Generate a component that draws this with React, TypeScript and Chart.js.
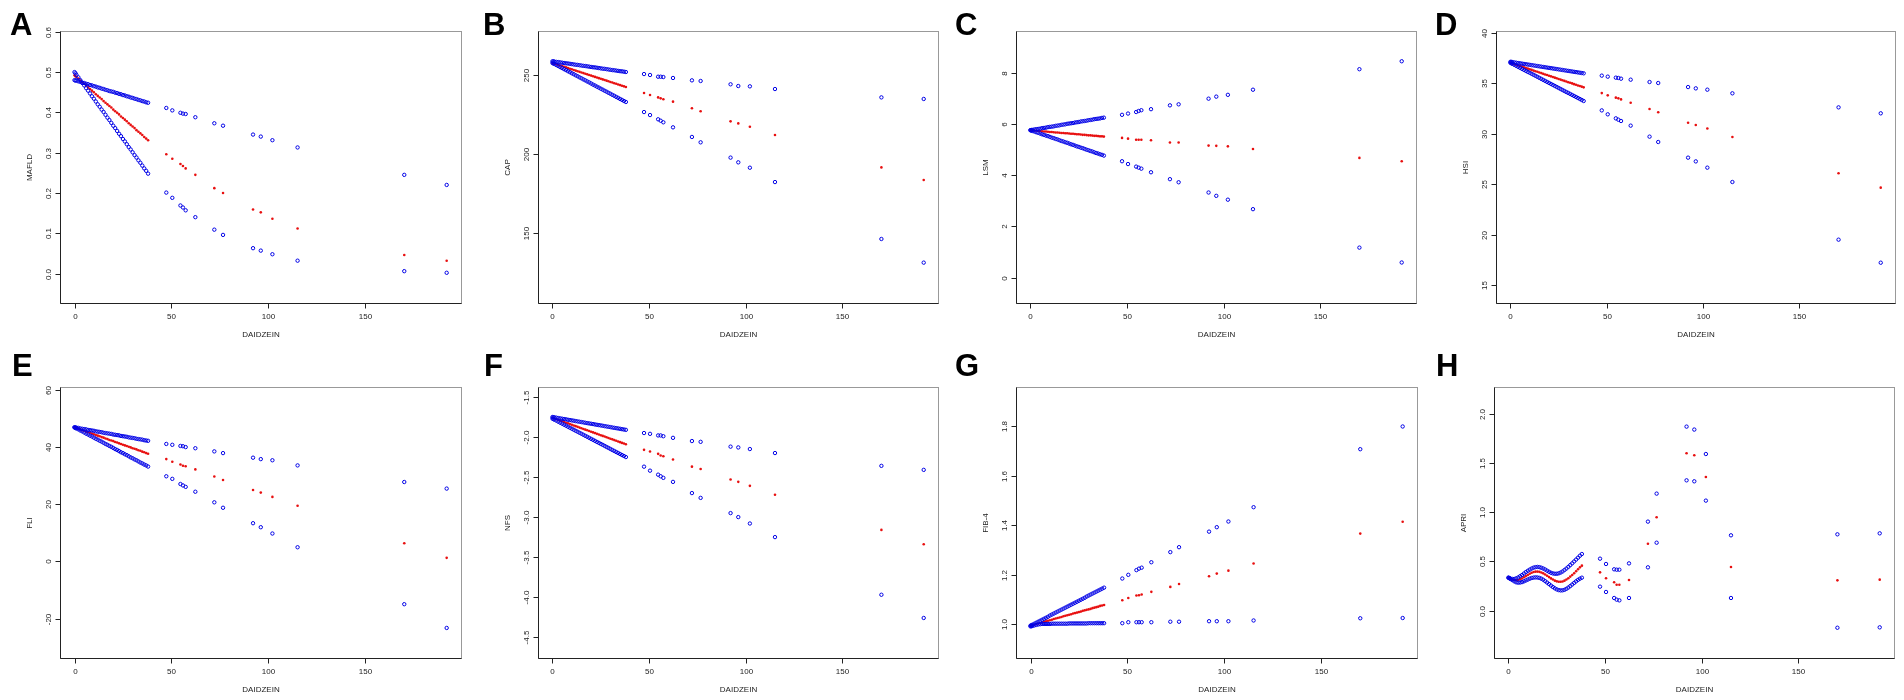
import { useEffect, useRef } from 'react';
import { Chart, registerables } from 'chart.js';

Chart.register(...registerables);

// DAIDZEIN values (x) shared by all eight panels
const DAIDZEIN = [0, 0.5, 1, 2, 3, 4, 5, 6, 7, 8, 9, 10, 11, 12, 13, 14, 15, 16, 17, 18, 19, 20, 21, 22, 23, 24, 25, 26, 27, 28, 29, 30, 31, 32, 33, 34, 35, 36, 37, 38,
    47.4, 50.5, 54.7, 56, 57.4, 62.4, 72.2, 76.7, 92.2, 96.2, 102.2, 115.2, 170.3, 192.2];
const X_TICKS = [0, 50, 100, 150];

// A - MAFLD
const MAFLD_CI1 = [0.480, 0.479, 0.479, 0.477, 0.476, 0.474, 0.473, 0.471, 0.470, 0.468, 0.467, 0.465, 0.464, 0.462, 0.461, 0.459, 0.458, 0.456, 0.455, 0.453, 0.452, 0.451, 0.449, 0.448, 0.446, 0.445, 0.443, 0.442, 0.440, 0.439, 0.437, 0.436, 0.434, 0.433, 0.431, 0.430, 0.428, 0.427, 0.425, 0.424,
    0.411, 0.405, 0.399, 0.397, 0.396, 0.388, 0.373, 0.367, 0.345, 0.340, 0.331, 0.313, 0.245, 0.220];
const MAFLD_FIT = [0.492, 0.490, 0.488, 0.484, 0.479, 0.475, 0.471, 0.467, 0.462, 0.458, 0.454, 0.450, 0.445, 0.441, 0.437, 0.433, 0.428, 0.424, 0.420, 0.416, 0.412, 0.407, 0.403, 0.399, 0.395, 0.390, 0.386, 0.382, 0.378, 0.373, 0.369, 0.365, 0.361, 0.356, 0.352, 0.348, 0.344, 0.339, 0.335, 0.331,
    0.296, 0.285, 0.272, 0.267, 0.261, 0.245, 0.212, 0.200, 0.159, 0.152, 0.136, 0.112, 0.046, 0.032];
const MAFLD_CI2 = [0.500, 0.497, 0.493, 0.487, 0.480, 0.473, 0.467, 0.460, 0.454, 0.447, 0.440, 0.434, 0.427, 0.420, 0.414, 0.407, 0.401, 0.394, 0.387, 0.381, 0.374, 0.367, 0.361, 0.354, 0.347, 0.341, 0.334, 0.328, 0.321, 0.314, 0.308, 0.301, 0.294, 0.288, 0.281, 0.275, 0.268, 0.261, 0.255, 0.248,
    0.201, 0.188, 0.169, 0.164, 0.157, 0.140, 0.109, 0.096, 0.063, 0.057, 0.048, 0.032, 0.006, 0.002];
const MAFLD_TICKS = ['0.0', '0.1', '0.2', '0.3', '0.4', '0.5', '0.6'];

// B - CAP
const CAP_CI1 = [258.7, 258.6, 258.5, 258.3, 258.2, 258.0, 257.8, 257.6, 257.4, 257.3, 257.1, 256.9, 256.7, 256.5, 256.4, 256.2, 256.0, 255.8, 255.7, 255.5, 255.3, 255.1, 254.9, 254.8, 254.6, 254.4, 254.2, 254.0, 253.9, 253.7, 253.5, 253.3, 253.1, 253.0, 252.8, 252.6, 252.4, 252.3, 252.1, 251.9,
    250.6, 250.0, 248.9, 248.9, 248.7, 248.1, 246.6, 246.2, 244.1, 243.0, 242.8, 241.1, 235.8, 234.8];
const CAP_FIT = [257.6, 257.4, 257.2, 256.8, 256.4, 256.0, 255.6, 255.2, 254.8, 254.4, 254.0, 253.6, 253.2, 252.8, 252.4, 252.0, 251.6, 251.2, 250.8, 250.4, 250.0, 249.6, 249.2, 248.8, 248.4, 248.0, 247.6, 247.2, 246.8, 246.4, 246.0, 245.6, 245.2, 244.8, 244.4, 244.0, 243.6, 243.2, 242.8, 242.4,
    238.6, 237.3, 235.8, 235.2, 234.6, 233.1, 228.9, 227.0, 220.6, 219.3, 217.2, 211.9, 191.4, 183.4];
const CAP_CI2 = [257.6, 257.3, 257.0, 256.3, 255.7, 255.0, 254.4, 253.7, 253.1, 252.4, 251.8, 251.1, 250.5, 249.8, 249.2, 248.5, 247.9, 247.2, 246.6, 245.9, 245.3, 244.6, 243.9, 243.3, 242.6, 242.0, 241.3, 240.7, 240.0, 239.4, 238.7, 238.1, 237.4, 236.8, 236.1, 235.5, 234.8, 234.2, 233.5, 232.9,
    226.5, 224.6, 221.9, 221.0, 220.0, 216.8, 210.7, 207.3, 197.6, 194.6, 191.2, 182.1, 146.0, 131.0];
const CAP_TICKS = ['150', '200', '250'];

// C - LSM
const LSM_CI1 = [5.75, 5.76, 5.76, 5.78, 5.79, 5.80, 5.81, 5.83, 5.84, 5.85, 5.87, 5.88, 5.89, 5.90, 5.92, 5.93, 5.94, 5.96, 5.97, 5.98, 6.00, 6.01, 6.02, 6.03, 6.05, 6.06, 6.07, 6.09, 6.10, 6.11, 6.12, 6.14, 6.15, 6.16, 6.18, 6.19, 6.20, 6.21, 6.23, 6.24,
    6.35, 6.40, 6.46, 6.50, 6.53, 6.57, 6.72, 6.76, 6.98, 7.06, 7.13, 7.33, 8.13, 8.44];
const LSM_FIT = [5.75, 5.75, 5.74, 5.74, 5.73, 5.72, 5.72, 5.71, 5.70, 5.70, 5.69, 5.68, 5.68, 5.67, 5.66, 5.66, 5.65, 5.64, 5.64, 5.63, 5.63, 5.62, 5.61, 5.61, 5.60, 5.59, 5.59, 5.58, 5.57, 5.57, 5.56, 5.55, 5.55, 5.54, 5.53, 5.53, 5.52, 5.51, 5.51, 5.50,
    5.45, 5.42, 5.38, 5.38, 5.38, 5.36, 5.27, 5.27, 5.15, 5.14, 5.12, 5.02, 4.67, 4.54];
const LSM_CI2 = [5.75, 5.74, 5.72, 5.70, 5.67, 5.65, 5.62, 5.59, 5.57, 5.54, 5.52, 5.49, 5.46, 5.44, 5.41, 5.39, 5.36, 5.33, 5.31, 5.28, 5.26, 5.23, 5.20, 5.18, 5.15, 5.12, 5.10, 5.07, 5.05, 5.02, 4.99, 4.97, 4.94, 4.92, 4.89, 4.86, 4.84, 4.81, 4.79, 4.76,
    4.54, 4.43, 4.33, 4.29, 4.25, 4.11, 3.84, 3.72, 3.32, 3.19, 3.04, 2.67, 1.17, 0.59];
const LSM_TICKS = ['0', '2', '4', '6', '8'];

// D - HSI
const HSI_CI1 = [37.10, 37.09, 37.07, 37.04, 37.01, 36.98, 36.95, 36.92, 36.89, 36.86, 36.83, 36.80, 36.77, 36.74, 36.71, 36.68, 36.65, 36.62, 36.59, 36.56, 36.53, 36.50, 36.47, 36.44, 36.41, 36.38, 36.35, 36.32, 36.29, 36.26, 36.23, 36.20, 36.17, 36.14, 36.11, 36.08, 36.05, 36.02, 35.99, 35.96,
    35.73, 35.63, 35.53, 35.50, 35.43, 35.33, 35.10, 35.00, 34.60, 34.47, 34.34, 33.98, 32.59, 32.00];
const HSI_FIT = [37.00, 36.97, 36.94, 36.87, 36.81, 36.74, 36.68, 36.62, 36.55, 36.49, 36.42, 36.36, 36.30, 36.23, 36.17, 36.11, 36.04, 35.98, 35.91, 35.85, 35.79, 35.72, 35.66, 35.59, 35.53, 35.47, 35.40, 35.34, 35.27, 35.21, 35.15, 35.08, 35.02, 34.96, 34.89, 34.83, 34.76, 34.70, 34.64, 34.57,
    34.00, 33.78, 33.55, 33.48, 33.38, 33.05, 32.43, 32.10, 31.07, 30.84, 30.50, 29.65, 26.06, 24.64];
const HSI_CI2 = [37.00, 36.95, 36.90, 36.80, 36.70, 36.60, 36.50, 36.40, 36.30, 36.20, 36.10, 36.01, 35.91, 35.81, 35.71, 35.61, 35.51, 35.41, 35.31, 35.21, 35.11, 35.01, 34.91, 34.81, 34.71, 34.61, 34.51, 34.41, 34.31, 34.21, 34.11, 34.02, 33.92, 33.82, 33.72, 33.62, 33.52, 33.42, 33.32, 33.22,
    32.29, 31.90, 31.50, 31.37, 31.24, 30.78, 29.69, 29.16, 27.61, 27.24, 26.62, 25.20, 19.49, 17.21];
const HSI_TICKS = ['15', '20', '25', '30', '35', '40'];

// E - FLI
const FLI_CI1 = [46.8, 46.7, 46.7, 46.6, 46.4, 46.3, 46.2, 46.1, 45.9, 45.8, 45.7, 45.6, 45.4, 45.3, 45.2, 45.1, 44.9, 44.8, 44.7, 44.6, 44.5, 44.3, 44.2, 44.1, 44.0, 43.8, 43.7, 43.6, 43.5, 43.3, 43.2, 43.1, 43.0, 42.8, 42.7, 42.6, 42.5, 42.3, 42.2, 42.1,
    41.0, 40.7, 40.3, 40.2, 39.9, 39.5, 38.4, 37.8, 36.2, 35.7, 35.3, 33.5, 27.7, 25.4];
const FLI_FIT = [46.8, 46.7, 46.6, 46.3, 46.1, 45.8, 45.6, 45.3, 45.1, 44.9, 44.6, 44.4, 44.1, 43.9, 43.7, 43.4, 43.2, 42.9, 42.7, 42.4, 42.2, 42.0, 41.7, 41.5, 41.2, 41.0, 40.7, 40.5, 40.3, 40.0, 39.8, 39.5, 39.3, 39.1, 38.8, 38.6, 38.3, 38.1, 37.8, 37.6,
    35.7, 34.8, 33.8, 33.4, 33.2, 32.1, 29.6, 28.4, 24.9, 24.0, 22.5, 19.4, 6.3, 1.2];
const FLI_CI2 = [46.8, 46.6, 46.4, 46.1, 45.7, 45.4, 45.0, 44.6, 44.3, 43.9, 43.6, 43.2, 42.8, 42.5, 42.1, 41.8, 41.4, 41.0, 40.7, 40.3, 40.0, 39.6, 39.2, 38.9, 38.5, 38.1, 37.8, 37.4, 37.1, 36.7, 36.3, 36.0, 35.6, 35.3, 34.9, 34.5, 34.2, 33.8, 33.5, 33.1,
    29.7, 28.8, 27.0, 26.5, 26.0, 24.3, 20.6, 18.7, 13.3, 11.9, 9.7, 4.9, -15.0, -23.3];
const FLI_TICKS = ['-20', '0', '20', '40', '60'];

// F - NFS
const NFS_CI1 = [-1.750, -1.752, -1.754, -1.758, -1.763, -1.767, -1.771, -1.775, -1.779, -1.784, -1.788, -1.792, -1.796, -1.801, -1.805, -1.809, -1.813, -1.817, -1.822, -1.826, -1.830, -1.834, -1.838, -1.843, -1.847, -1.851, -1.855, -1.859, -1.864, -1.868, -1.872, -1.876, -1.881, -1.885, -1.889, -1.893, -1.897, -1.902, -1.906, -1.910,
    -1.95, -1.96, -1.98, -1.98, -1.99, -2.01, -2.05, -2.06, -2.12, -2.13, -2.15, -2.20, -2.36, -2.41];
const NFS_FIT = [-1.760, -1.764, -1.769, -1.777, -1.786, -1.795, -1.803, -1.812, -1.821, -1.829, -1.838, -1.847, -1.855, -1.864, -1.873, -1.882, -1.890, -1.899, -1.908, -1.916, -1.925, -1.934, -1.942, -1.951, -1.960, -1.968, -1.977, -1.986, -1.994, -2.003, -2.012, -2.021, -2.029, -2.038, -2.047, -2.055, -2.064, -2.073, -2.081, -2.090,
    -2.16, -2.18, -2.21, -2.23, -2.24, -2.28, -2.37, -2.40, -2.53, -2.56, -2.61, -2.72, -3.16, -3.34];
const NFS_CI2 = [-1.770, -1.776, -1.783, -1.795, -1.808, -1.821, -1.833, -1.846, -1.858, -1.871, -1.884, -1.896, -1.909, -1.922, -1.934, -1.947, -1.959, -1.972, -1.985, -1.997, -2.010, -2.023, -2.035, -2.048, -2.061, -2.073, -2.086, -2.098, -2.111, -2.124, -2.136, -2.149, -2.162, -2.174, -2.187, -2.199, -2.212, -2.225, -2.237, -2.250,
    -2.37, -2.42, -2.47, -2.49, -2.51, -2.56, -2.70, -2.76, -2.95, -3.00, -3.08, -3.25, -3.97, -4.26];
const NFS_TICKS = ['-4.5', '-4.0', '-3.5', '-3.0', '-2.5', '-2.0', '-1.5'];

// G - FIB-4
const FIB4_CI1 = [0.993, 0.995, 0.997, 1.001, 1.005, 1.009, 1.013, 1.017, 1.021, 1.025, 1.029, 1.034, 1.038, 1.042, 1.046, 1.050, 1.054, 1.058, 1.062, 1.066, 1.070, 1.074, 1.078, 1.082, 1.086, 1.090, 1.094, 1.098, 1.102, 1.106, 1.111, 1.115, 1.119, 1.123, 1.127, 1.131, 1.135, 1.139, 1.143, 1.147,
    1.184, 1.199, 1.218, 1.224, 1.228, 1.250, 1.291, 1.311, 1.374, 1.392, 1.415, 1.473, 1.708, 1.800];
const FIB4_FIT = [0.993, 0.994, 0.995, 0.997, 1.000, 1.002, 1.004, 1.006, 1.008, 1.011, 1.013, 1.015, 1.017, 1.020, 1.022, 1.024, 1.026, 1.028, 1.031, 1.033, 1.035, 1.037, 1.039, 1.042, 1.044, 1.046, 1.048, 1.050, 1.053, 1.055, 1.057, 1.059, 1.061, 1.064, 1.066, 1.068, 1.070, 1.073, 1.075, 1.077,
    1.096, 1.105, 1.115, 1.116, 1.119, 1.130, 1.150, 1.162, 1.193, 1.204, 1.216, 1.245, 1.366, 1.414];
const FIB4_CI2 = [0.990, 0.991, 0.992, 0.994, 0.996, 0.998, 0.999, 1.000, 1.000, 1.000, 1.000, 1.000, 1.001, 1.001, 1.001, 1.001, 1.001, 1.001, 1.001, 1.001, 1.001, 1.002, 1.002, 1.002, 1.002, 1.002, 1.002, 1.002, 1.002, 1.002, 1.002, 1.003, 1.003, 1.003, 1.003, 1.003, 1.003, 1.003, 1.003, 1.003,
    1.003, 1.007, 1.007, 1.007, 1.007, 1.007, 1.009, 1.009, 1.011, 1.011, 1.011, 1.014, 1.023, 1.024];
const FIB4_TICKS = ['1.0', '1.2', '1.4', '1.6', '1.8'];

// H - APRI
const APRI_CI1 = [0.335, 0.330, 0.326, 0.322, 0.322, 0.328, 0.337, 0.350, 0.362, 0.377, 0.392, 0.405, 0.417, 0.428, 0.437, 0.442, 0.444, 0.442, 0.436, 0.428, 0.418, 0.406, 0.395, 0.385, 0.378, 0.375, 0.375, 0.379, 0.387, 0.398, 0.413, 0.428, 0.445, 0.463, 0.481, 0.500, 0.519, 0.538, 0.558, 0.575,
    0.528, 0.474, 0.420, 0.416, 0.416, 0.480, 0.904, 1.188, 1.868, 1.838, 1.590, 0.765, 0.775, 0.785];
const APRI_FIT = [0.335, 0.330, 0.326, 0.318, 0.312, 0.310, 0.312, 0.319, 0.327, 0.339, 0.351, 0.363, 0.375, 0.385, 0.392, 0.396, 0.397, 0.394, 0.388, 0.379, 0.368, 0.355, 0.341, 0.328, 0.316, 0.305, 0.298, 0.294, 0.293, 0.297, 0.305, 0.316, 0.330, 0.346, 0.363, 0.380, 0.400, 0.420, 0.440, 0.457,
    0.389, 0.330, 0.288, 0.264, 0.264, 0.311, 0.680, 0.948, 1.597, 1.577, 1.357, 0.443, 0.308, 0.315];
const APRI_CI2 = [0.335, 0.330, 0.322, 0.310, 0.298, 0.288, 0.285, 0.286, 0.290, 0.298, 0.307, 0.316, 0.325, 0.332, 0.336, 0.338, 0.337, 0.333, 0.325, 0.314, 0.300, 0.285, 0.270, 0.255, 0.240, 0.227, 0.216, 0.209, 0.206, 0.207, 0.212, 0.222, 0.235, 0.250, 0.266, 0.282, 0.298, 0.313, 0.325, 0.335,
    0.244, 0.190, 0.129, 0.112, 0.105, 0.129, 0.440, 0.690, 1.323, 1.313, 1.117, 0.129, -0.173, -0.169];
const APRI_TICKS = ['0.0', '0.5', '1.0', '1.5', '2.0'];

const FONT = '"Liberation Sans", Arial, Helvetica, sans-serif';

// panel placement: cell on the page, plot-box padding inside the cell, letter position
const PANELS = [
    { letter: 'A', name: 'MAFLD', hi: MAFLD_CI1, fit: MAFLD_FIT, lo: MAFLD_CI2, ticks: MAFLD_TICKS, yMin: -0.073, yMax: 0.602,
        cell: [0, 0, 476, 350], pad: [60, 31, 15, 47], lx: 10, ly: 35 },
    { letter: 'B', name: 'CAP', hi: CAP_CI1, fit: CAP_FIT, lo: CAP_CI2, ticks: CAP_TICKS, yMin: 105.4, yMax: 277.9,
        cell: [476, 0, 476, 350], pad: [62, 31, 14, 47], lx: 7, ly: 35 },
    { letter: 'C', name: 'LSM', hi: LSM_CI1, fit: LSM_FIT, lo: LSM_CI2, ticks: LSM_TICKS, yMin: -0.99, yMax: 9.62,
        cell: [952, 0, 478, 350], pad: [64, 31, 14, 47], lx: 3, ly: 35 },
    { letter: 'D', name: 'HSI', hi: HSI_CI1, fit: HSI_FIT, lo: HSI_CI2, ticks: HSI_TICKS, yMin: 13.22, yMax: 40.15,
        cell: [1430, 0, 474, 350], pad: [66, 31, 9, 47], lx: 5, ly: 35 },
    { letter: 'E', name: 'FLI', hi: FLI_CI1, fit: FLI_FIT, lo: FLI_CI2, ticks: FLI_TICKS, yMin: -33.8, yMax: 60.9,
        cell: [0, 350, 476, 350], pad: [60, 37, 15, 42], lx: 12, ly: 26 },
    { letter: 'F', name: 'NFS', hi: NFS_CI1, fit: NFS_FIT, lo: NFS_CI2, ticks: NFS_TICKS, yMin: -4.76, yMax: -1.375,
        cell: [476, 350, 476, 350], pad: [62, 37, 14, 42], lx: 8, ly: 26 },
    { letter: 'G', name: 'FIB-4', hi: FIB4_CI1, fit: FIB4_FIT, lo: FIB4_CI2, ticks: FIB4_TICKS, yMin: 0.862, yMax: 1.96,
        cell: [952, 350, 478, 350], pad: [64, 37, 13, 42], lx: 3, ly: 26 },
    { letter: 'H', name: 'APRI', hi: APRI_CI1, fit: APRI_FIT, lo: APRI_CI2, ticks: APRI_TICKS, yMin: -0.48, yMax: 2.27,
        cell: [1430, 350, 474, 350], pad: [64, 37, 10, 42], lx: 6, ly: 26 },
];

const toPoints = (ys: number[]) => DAIDZEIN.map((x, i) => ({ x, y: ys[i] }));

const Panel = ({ p }: { p: any }) => {
    const chartRef = useRef<HTMLCanvasElement | null>(null);
    const [cx, cy, cw, ch] = p.cell;

    useEffect(() => {
        const canvas = chartRef.current;
        if (!canvas) return;

        // R-style frame: box, outward ticks, rotated y labels, titles, panel letter
        const frame = {
            id: 'rframe',
            afterDraw(chart: any) {
                const { ctx, chartArea: a, scales } = chart;
                const L = Math.round(a.left) + 0.5, R = Math.round(a.right) + 0.5;
                const T = Math.round(a.top) + 0.5, B = Math.round(a.bottom) + 0.5;
                ctx.save();
                ctx.strokeStyle = '#999';
                ctx.lineWidth = 1;
                ctx.strokeRect(L, T, R - L, B - T);
                ctx.strokeStyle = '#222';
                ctx.beginPath();
                ctx.moveTo(L, T); ctx.lineTo(L, B); ctx.lineTo(R, B);
                ctx.stroke();

                ctx.fillStyle = '#222';
                ctx.font = `8px ${FONT}`;
                ctx.textAlign = 'center';
                ctx.textBaseline = 'middle';
                X_TICKS.forEach((v) => {
                    const px = Math.round(scales.x.getPixelForValue(v)) + 0.5;
                    ctx.beginPath(); ctx.moveTo(px, B); ctx.lineTo(px, B + 5); ctx.stroke();
                    ctx.fillText(String(v), px, B + 13);
                });
                ctx.fillText('DAIDZEIN', (L + R) / 2, B + 31);

                p.ticks.forEach((lab: string) => {
                    const py = Math.round(scales.y.getPixelForValue(parseFloat(lab))) + 0.5;
                    ctx.beginPath(); ctx.moveTo(L - 5, py); ctx.lineTo(L, py); ctx.stroke();
                    ctx.save();
                    ctx.translate(L - 12, py);
                    ctx.rotate(-Math.PI / 2);
                    ctx.fillText(lab, 0, 0);
                    ctx.restore();
                });
                ctx.save();
                ctx.translate(L - 31, (T + B) / 2);
                ctx.rotate(-Math.PI / 2);
                ctx.fillText(p.name, 0, 0);
                ctx.restore();

                ctx.fillStyle = '#000';
                ctx.font = `bold 31px ${FONT}`;
                ctx.textAlign = 'left';
                ctx.textBaseline = 'alphabetic';
                ctx.fillText(p.letter, p.lx, p.ly);
                ctx.restore();
            },
        };

        const blue = {
            pointRadius: 1.7,
            pointBorderWidth: 1,
            borderColor: '#0000e6',
            backgroundColor: 'rgba(0,0,0,0)',
        };

        const newChart = new Chart(canvas, {
            type: 'scatter',
            data: {
                datasets: [
                    { label: 'upper', data: toPoints(p.hi), ...blue },
                    { label: 'lower', data: toPoints(p.lo), ...blue },
                    {
                        label: 'estimate', data: toPoints(p.fit),
                        pointRadius: 1.3, pointBorderWidth: 0,
                        borderColor: '#e81010', backgroundColor: '#e81010',
                    },
                ],
            },
            options: {
                animation: false,
                responsive: false,
                maintainAspectRatio: false,
                events: [],
                layout: { padding: { left: p.pad[0], top: p.pad[1], right: p.pad[2], bottom: p.pad[3] } },
                plugins: { legend: { display: false }, tooltip: { enabled: false } },
                scales: {
                    x: { type: 'linear', display: false, min: -7.5, max: 199.6 },
                    y: { type: 'linear', display: false, min: p.yMin, max: p.yMax },
                },
            },
            plugins: [frame],
        });

        return () => {
            newChart.destroy();
        };
    }, []);

    return (
        <canvas ref={chartRef} width={cw} height={ch}
            style={{ position: 'absolute', left: cx, top: cy, width: cw, height: ch }} />
    );
};

const App = () => {
    useEffect(() => {
        document.body.style.margin = '0';
    }, []);

    return (
        <div style={{ position: 'relative', width: 1904, height: 700, background: '#fff', overflow: 'hidden' }}>
            {PANELS.map((p) => <Panel key={p.letter} p={p} />)}
        </div>
    );
};

export default App;
